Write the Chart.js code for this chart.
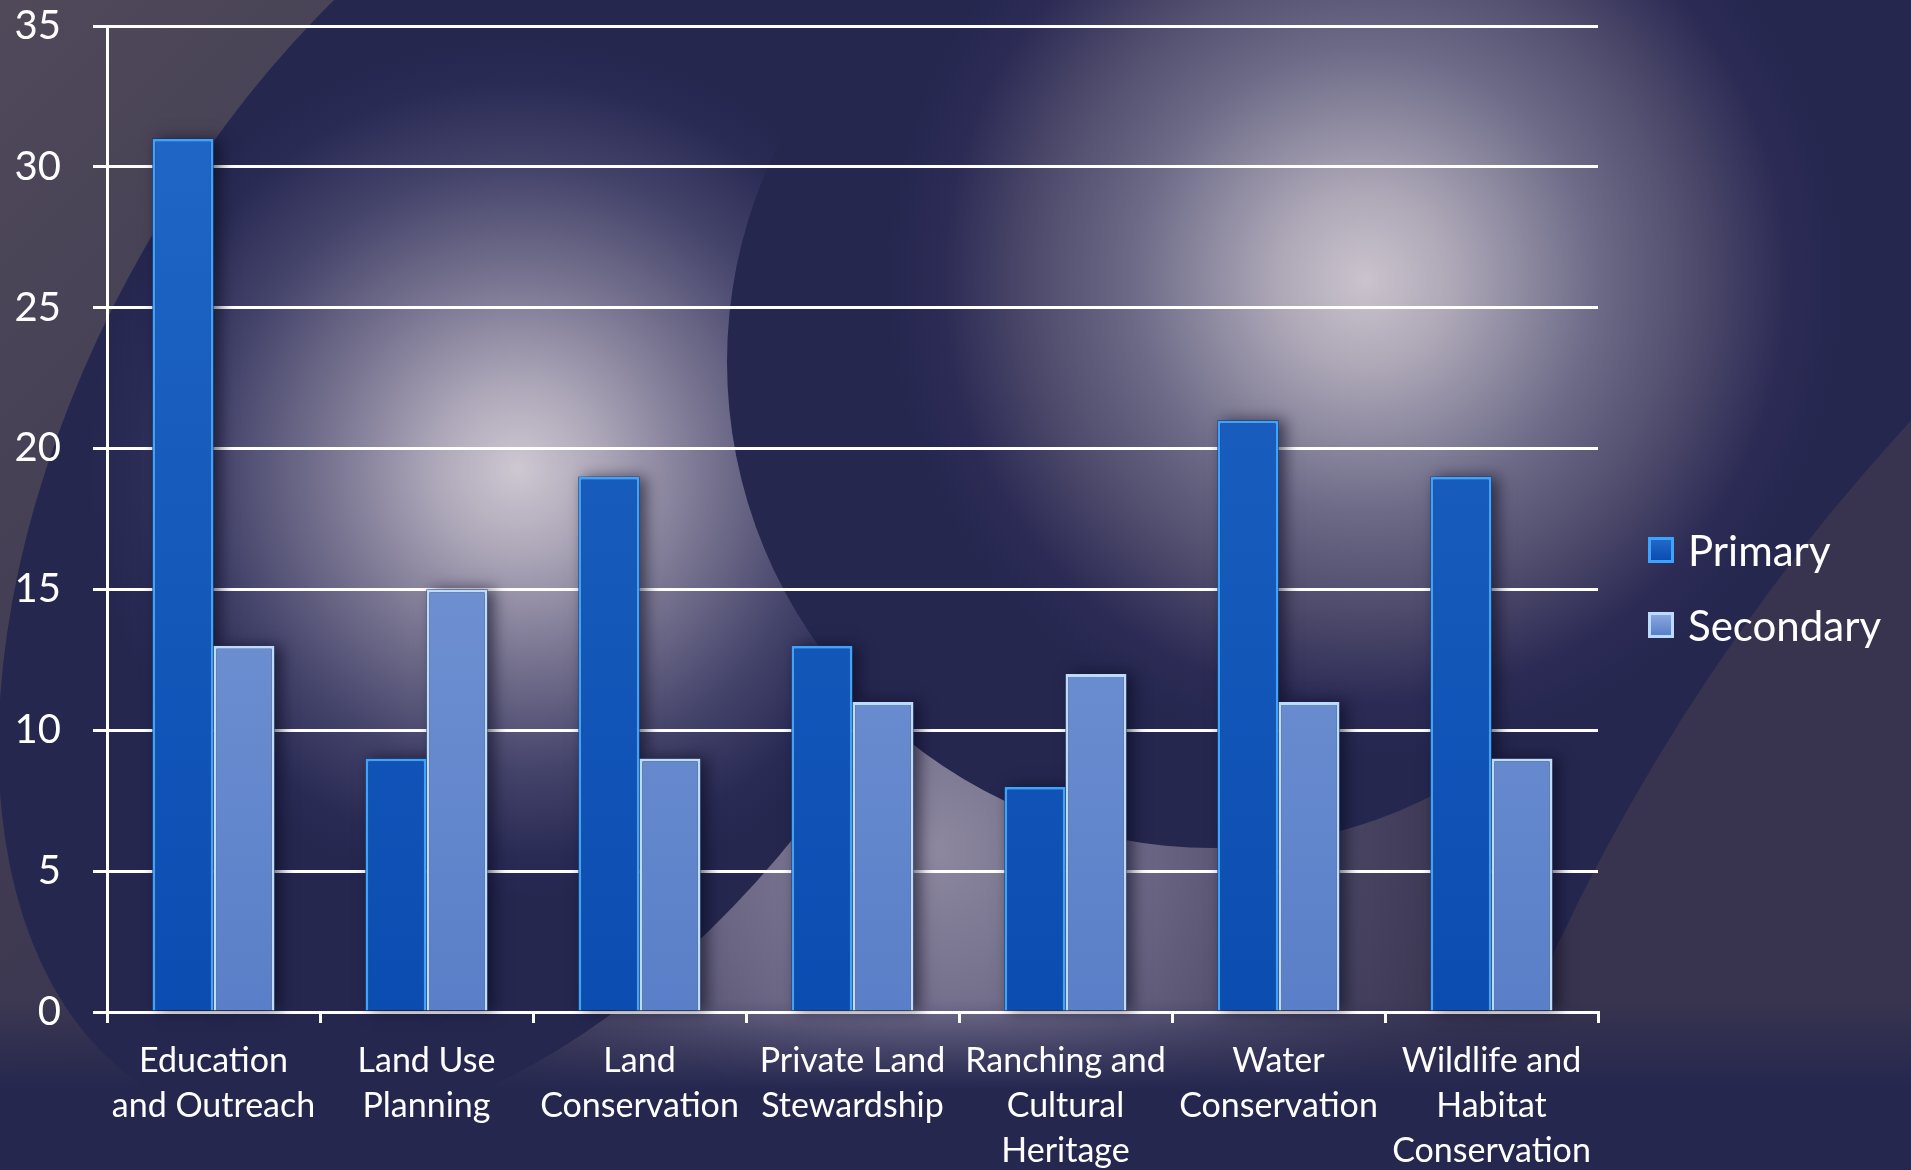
<!DOCTYPE html>
<html>
<head>
<meta charset="utf-8">
<script src="https://cdn.jsdelivr.net/npm/chart.js@4.4.1/dist/chart.umd.min.js"></script>
<style>
html,body{margin:0;padding:0;background:#262850;overflow:hidden;}
#grafico{display:block;}
</style>
</head>
<body>
<canvas id="grafico" width="1911" height="1170"></canvas>
<script>

/* =============================
DADOS
============================= */

const categorias=[
["Education","and Outreach"],
["Land Use","Planning"],
["Land","Conservation"],
["Private Land","Stewardship"],
["Ranching and","Cultural","Heritage"],
["Water","Conservation"],
["Wildlife and","Habitat","Conservation"]
];

const series=["Primary","Secondary"];

const primario=[31,9,19,13,8,21,19];
const secundario=[13,15,9,11,12,11,9];

const eixoMin=0;
const eixoMax=35;
const eixoPasso=5;

/* cores: topo, base, borda */
const coresBarra=[
["#2169c8","#0b4cb0","#3ea2ff"],
["#88a6df","#5a7fc8","#bcdcff"]
];

/* =============================
FUNDO (estilo slide)
============================= */

function brilho(ctx,gx,gy,gr,paradas){
const g=ctx.createRadialGradient(gx,gy,0,gx,gy,gr);
paradas.forEach(p=>g.addColorStop(p[0],p[1]));
return g;
}

const fundo={
id:"fundo",
beforeDraw(chart){
const ctx=chart.ctx,W=chart.width,H=chart.height;
ctx.save();

ctx.fillStyle="#38344f";
ctx.fillRect(0,0,W,H);

let g=ctx.createLinearGradient(0,0,650,650);
g.addColorStop(0,"rgba(80,73,90,1)");
g.addColorStop(1,"rgba(80,73,90,0)");
ctx.fillStyle=g;
ctx.fillRect(0,0,W,H);

/* brilho lavanda entre as formas */
ctx.fillStyle=brilho(ctx,930,850,620,[
[0,"rgba(142,137,160,1)"],[0.35,"rgba(112,107,138,0.9)"],
[0.7,"rgba(80,76,108,0.6)"],[1,"rgba(60,57,85,0)"]
]);
ctx.fillRect(0,0,W,H);

/* forma esquerda */
ctx.fillStyle=brilho(ctx,518,469,430,[
[0,"#cec8d2"],[0.2,"#aca6b8"],[0.45,"#76728f"],
[0.7,"#44436a"],[0.9,"#2a2b55"],[1,"#25274f"]
]);
ctx.beginPath();
ctx.ellipse(524,463,731,436,-Math.PI/3,0,Math.PI*2);
ctx.fill();

/* forma direita, fora da cunha cinza */
ctx.save();
ctx.beginPath();
ctx.rect(0,0,W,H);
ctx.arc(3447,1838,2090,0,Math.PI*2);
ctx.clip("evenodd");
ctx.fillStyle=brilho(ctx,1365,280,480,[
[0,"#cbc4ce"],[0.19,"#aca6b6"],[0.48,"#6d6b88"],
[0.69,"#4f4b6c"],[0.88,"#2c2b55"],[1,"#25274f"]
]);
ctx.beginPath();
ctx.arc(1213,362,486,0,Math.PI*2);
ctx.moveTo(1213,-10);
ctx.lineTo(2000,-10);
ctx.lineTo(2000,1000);
ctx.lineTo(1490,1000);
ctx.lineTo(1490,700);
ctx.lineTo(1213,700);
ctx.closePath();
ctx.fill();
ctx.restore();

/* base escura */
g=ctx.createLinearGradient(0,1000,0,1090);
g.addColorStop(0,"rgba(37,39,79,0)");
g.addColorStop(1,"rgba(37,39,79,1)");
ctx.fillStyle=g;
ctx.fillRect(0,1000,W,H-1000);

ctx.restore();
}
};

/* =============================
SOMBRA DAS BARRAS
============================= */

const sombra={
id:"sombra",
beforeDatasetsDraw(chart){
const ctx=chart.ctx;
ctx.save();
ctx.shadowColor="rgba(8,8,30,0.6)";
ctx.shadowBlur=14;
ctx.shadowOffsetX=6;
ctx.fillStyle="#101030";
chart.data.datasets.forEach((_,i)=>{
chart.getDatasetMeta(i).data.forEach(b=>{
const p=b.getProps(["x","y","base","width"],true);
ctx.fillRect(p.x-p.width/2,p.y,p.width,p.base-p.y);
});
});
ctx.restore();
}
};

/* =============================
LEGENDA
============================= */

const legenda={
id:"legenda",
afterDraw(chart){
const ctx=chart.ctx;
ctx.save();
ctx.font="42px Lato";
ctx.textBaseline="middle";
chart.data.datasets.forEach((ds,i)=>{
const y=550+i*75;
const c=coresBarra[i];
ctx.fillStyle=c[2];
ctx.fillRect(1648,y-13,26,26);
const g=ctx.createLinearGradient(0,y-10,0,y+10);
g.addColorStop(0,c[0]);
g.addColorStop(1,c[1]);
ctx.fillStyle=g;
ctx.fillRect(1651,y-10,20,20);
ctx.fillStyle="#ffffff";
ctx.fillText(ds.label,1688,y+2);
});
ctx.restore();
}
};

/* =============================
GRAFICO
============================= */

function corBarra(i){
return (c)=>{
const ca=c.chart.chartArea;
if(!ca) return coresBarra[i][0];
const g=c.chart.ctx.createLinearGradient(0,ca.top,0,ca.bottom);
g.addColorStop(0,coresBarra[i][0]);
g.addColorStop(1,coresBarra[i][1]);
return g;
};
}

function iniciar(){

const valores=[primario,secundario];

new Chart(document.getElementById("grafico"),{
type:"bar",
data:{
labels:categorias,
datasets:series.map((s,i)=>({
label:s,
data:valores[i],
backgroundColor:corBarra(i),
borderColor:coresBarra[i][2],
borderWidth:3,
borderSkipped:"start",
categoryPercentage:0.573,
barPercentage:1
}))
},
options:{
responsive:false,
animation:false,
devicePixelRatio:1,
layout:{padding:{top:0,right:313,left:0,bottom:0}},
plugins:{legend:{display:false},tooltip:{enabled:false}},
scales:{
x:{
afterFit:(s)=>{s.height=158;},
grid:{drawOnChartArea:false,drawTicks:true,tickLength:11,color:"#ffffff",lineWidth:3,offset:true},
border:{color:"#ffffff",width:3},
ticks:{color:"#ffffff",font:{family:"Lato",size:34,lineHeight:1.32},padding:16,maxRotation:0,minRotation:0,autoSkip:false}
},
y:{
min:eixoMin,
max:eixoMax,
afterFit:(s)=>{s.width=107;s.paddingTop=26;s.paddingBottom=0;},
grid:{color:"#ffffff",lineWidth:3,tickLength:14},
border:{color:"#ffffff",width:3},
ticks:{stepSize:eixoPasso,color:"#ffffff",font:{family:"Lato",size:40},padding:32}
}
}
},
plugins:[fundo,sombra,legenda]
});

}

document.fonts.load("40px Lato").then(iniciar,iniciar);

</script>
</body>
</html>
